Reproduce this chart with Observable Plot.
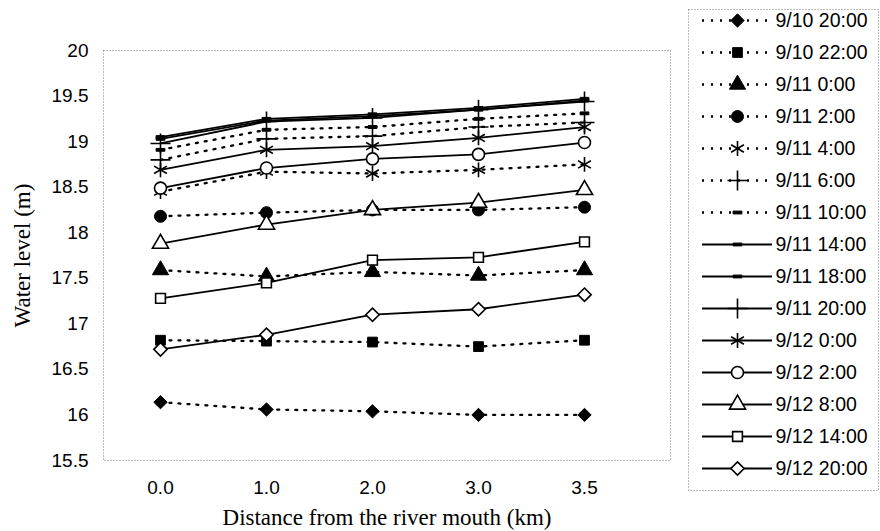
<!DOCTYPE html>
<html><head><meta charset="utf-8">
<script src="https://cdn.jsdelivr.net/npm/d3@7"></script>
<script src="https://cdn.jsdelivr.net/npm/@observablehq/plot@0.6"></script>
<style>
body{margin:0;background:#fff;}
#wrap{position:relative;width:880px;height:531px;overflow:hidden;}
#legend{position:absolute;left:687px;top:0;}
#main{position:absolute;left:0;top:0;}
g[aria-label="x-axis label"] text, g[aria-label="y-axis label"] text,
g[aria-label="x-axis label"], g[aria-label="y-axis label"]{font-family:"Liberation Serif","Times New Roman",serif !important;font-size:23px !important;}
</style></head><body><div id="wrap"><div id="main"></div><div id="legend"></div></div>
<script>
// Categories (x axis) and y ticks
const distances = ["0.0", "1.0", "2.0", "3.0", "3.5"];
const yTicks = [15.5, 16, 16.5, 17, 17.5, 18, 18.5, 19, 19.5, 20];

// Series names (legend order)
const seriesNames = ["9/10 20:00", "9/10 22:00", "9/11 0:00", "9/11 2:00", "9/11 4:00", "9/11 6:00", "9/11 10:00", "9/11 14:00", "9/11 18:00", "9/11 20:00", "9/12 0:00", "9/12 2:00", "9/12 8:00", "9/12 14:00", "9/12 20:00"];

// Water levels (m) at each distance
const s0910_2000 = [16.14, 16.06, 16.04, 16.00, 16.00];
const s0910_2200 = [16.82, 16.81, 16.80, 16.75, 16.82];
const s0911_0000 = [17.59, 17.52, 17.57, 17.53, 17.59];
const s0911_0200 = [18.18, 18.22, 18.25, 18.25, 18.28];
const s0911_0400 = [18.45, 18.67, 18.65, 18.69, 18.75];
const s0911_0600 = [18.80, 19.03, 19.06, 19.16, 19.21];
const s0911_1000 = [18.91, 19.13, 19.16, 19.25, 19.31];
const s0911_1400 = [19.05, 19.25, 19.30, 19.37, 19.47];
const s0911_1800 = [19.03, 19.23, 19.28, 19.35, 19.45];
const s0911_2000 = [18.98, 19.22, 19.26, 19.35, 19.44];
const s0912_0000 = [18.69, 18.91, 18.95, 19.04, 19.16];
const s0912_0200 = [18.49, 18.71, 18.81, 18.86, 18.99];
const s0912_0800 = [17.88, 18.09, 18.25, 18.33, 18.47];
const s0912_1400 = [17.28, 17.45, 17.70, 17.73, 17.90];
const s0912_2000 = [16.72, 16.88, 17.10, 17.16, 17.32];

const seriesValues = [s0910_2000, s0910_2200, s0911_0000, s0911_0200, s0911_0400, s0911_0600, s0911_1000, s0911_1400, s0911_1800, s0911_2000, s0912_0000, s0912_0200, s0912_0800, s0912_1400, s0912_2000];

const rows = seriesNames.flatMap((name, i) => distances.map((d, j) => ({series: name, distance: d, level: seriesValues[i][j]})));

// custom short-dash marker
const dashSymbol = {draw(ctx, size) { const s = Math.sqrt(size); const hw = s * 0.62, hh = s * 0.2; ctx.moveTo(-hw, -hh); ctx.lineTo(hw, -hh); ctx.lineTo(hw, hh); ctx.lineTo(-hw, hh); ctx.closePath(); }};

// styles (kept separate from data)
const styles = {
  "9/10 20:00": {dotted: true, symbol: "diamond2", filled: true, r: 6},
  "9/10 22:00": {dotted: true, symbol: "square", filled: true, r: 5.5},
  "9/11 0:00": {dotted: true, symbol: "triangle", filled: true, r: 6},
  "9/11 2:00": {dotted: true, symbol: "circle", filled: true, r: 6},
  "9/11 4:00": {dotted: true, symbol: "asterisk", filled: false, r: 7},
  "9/11 6:00": {dotted: true, symbol: "plus", filled: false, r: 6.5},
  "9/11 10:00": {dotted: true, symbol: dashSymbol, filled: true, r: 4},
  "9/11 14:00": {dotted: false, symbol: dashSymbol, filled: true, r: 4},
  "9/11 18:00": {dotted: false, symbol: dashSymbol, filled: true, r: 4},
  "9/11 20:00": {dotted: false, symbol: "plus", filled: false, r: 6.5},
  "9/12 0:00": {dotted: false, symbol: "asterisk", filled: false, r: 7},
  "9/12 2:00": {dotted: false, symbol: "circle", filled: false, r: 6},
  "9/12 8:00": {dotted: false, symbol: "triangle", filled: false, r: 6},
  "9/12 14:00": {dotted: false, symbol: "square", filled: false, r: 5.5},
  "9/12 20:00": {dotted: false, symbol: "diamond2", filled: false, r: 6}
};
const dotStyle = (st) => ({symbol: st.symbol, r: st.r, fill: st.filled ? "black" : "white", stroke: "black", strokeWidth: st.filled ? 1 : 1.6});
const lineStyle = (st) => st.dotted ? {stroke: "black", strokeWidth: 2.3, strokeDasharray: "2,7"} : {stroke: "black", strokeWidth: 1.8};

const mainMarks = [Plot.frame({stroke: "#777", strokeDasharray: "1,2", strokeWidth: 1})];
for (const name of seriesNames) {
  const data = rows.filter(r => r.series === name);
  mainMarks.push(Plot.line(data, {x: "distance", y: "level", ...lineStyle(styles[name])}));
}
for (const name of seriesNames) {
  const data = rows.filter(r => r.series === name);
  mainMarks.push(Plot.dot(data, {x: "distance", y: "level", ...dotStyle(styles[name])}));
}

const main = Plot.plot({
  width: 880, height: 531,
  marginLeft: 103, marginRight: 210, marginTop: 50, marginBottom: 71,
  style: {fontSize: "19px", fontFamily: "'Liberation Sans', Arial, sans-serif", background: "white", color: "black"},
  x: {type: "point", domain: distances, padding: 0, insetLeft: 55, insetRight: 85, tickSize: 0, tickPadding: 20,
      label: "Distance from the river mouth (km)", labelAnchor: "center", labelOffset: 64, labelArrow: "none"},
  y: {domain: [15.5, 20], ticks: yTicks, tickFormat: d => String(d), tickSize: 0, tickPadding: 15,
      label: "Water level (m)", labelAnchor: "center", labelOffset: 90, labelArrow: "none"},
  marks: mainMarks
});
document.getElementById("main").appendChild(main);

// Legend
const legendMarks = [Plot.frame({stroke: "#777", strokeDasharray: "1,2", strokeWidth: 1, insetLeft: -14, insetRight: -106, insetTop: -11, insetBottom: -22})];
for (const name of seriesNames) {
  const st = styles[name];
  legendMarks.push(Plot.tickY([name], {y: d => d, ...lineStyle(st)}));
  legendMarks.push(Plot.dot([name], {y: d => d, ...dotStyle(st)}));
}
legendMarks.push(Plot.text(seriesNames, {y: d => d, text: d => d, frameAnchor: "right", textAnchor: "start", dx: 3, fontSize: 19.5}));

const legend = Plot.plot({
  width: 193, height: 531,
  marginLeft: 15, marginRight: 108, marginTop: 20, marginBottom: 63,
  style: {fontSize: "19px", fontFamily: "'Liberation Sans', Arial, sans-serif", background: "transparent", color: "black"},
  x: {axis: null},
  y: {type: "point", domain: seriesNames, padding: 0, axis: null},
  marks: legendMarks
});
document.getElementById("legend").appendChild(legend);
</script></body></html>
